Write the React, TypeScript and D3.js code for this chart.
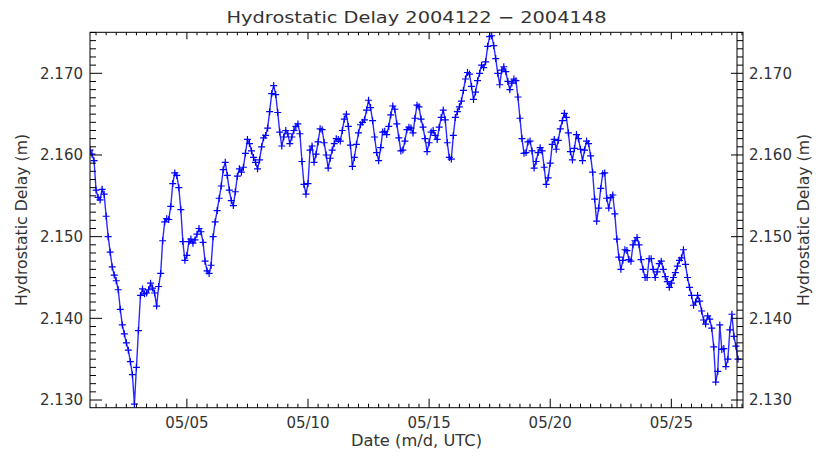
import React from "react";
import * as d3 from "d3";

// Hydrostatic delay (m), sampled every 2 hours starting 2004-05-01 00:00 UTC (DOY 122)
const startHour = 0;
const stepHours = 2;
const delay: number[] = [
  2.1606, 2.1601, 2.1593, 2.1557, 2.1548, 2.1545, 2.1558, 2.1552, 2.1525, 2.1500,
  2.1481, 2.1463, 2.1453, 2.1446, 2.1435, 2.1411, 2.1392, 2.1381, 2.1370, 2.1361,
  2.1347, 2.1331, 2.1295, 2.1340, 2.1385, 2.1428, 2.1436, 2.1430, 2.1431, 2.1435,
  2.1443, 2.1437, 2.1431, 2.1415, 2.1439, 2.1455, 2.1495, 2.1518, 2.1522, 2.1521,
  2.1537, 2.1565, 2.1578, 2.1575, 2.1560, 2.1533, 2.1494, 2.1471, 2.1477, 2.1494,
  2.1497, 2.1492, 2.1496, 2.1503, 2.1510, 2.1506, 2.1493, 2.1470, 2.1458, 2.1455,
  2.1465, 2.1500, 2.1518, 2.1532, 2.1547, 2.1562, 2.1582, 2.1591, 2.1575, 2.1557,
  2.1544, 2.1538, 2.1555, 2.1574, 2.1583, 2.1579, 2.1585, 2.1602, 2.1619, 2.1614,
  2.1605, 2.1597, 2.1591, 2.1583, 2.1594, 2.1610, 2.1621, 2.1624, 2.1633, 2.1653,
  2.1675, 2.1685, 2.1674, 2.1652, 2.1628, 2.1611, 2.1622, 2.1630, 2.1626, 2.1614,
  2.1622, 2.1630, 2.1635, 2.1638, 2.1626, 2.1592, 2.1564, 2.1552, 2.1565, 2.1606,
  2.1611, 2.1591, 2.1601, 2.1616, 2.1632, 2.1631, 2.1615, 2.1600, 2.1584, 2.1596,
  2.1606, 2.1614, 2.1620, 2.1619, 2.1617, 2.1630, 2.1644, 2.1650, 2.1635, 2.1612,
  2.1586, 2.1597, 2.1613, 2.1627, 2.1637, 2.1640, 2.1643, 2.1655, 2.1667, 2.1658,
  2.1642, 2.1622, 2.1603, 2.1593, 2.1609, 2.1628, 2.1629, 2.1625, 2.1635, 2.1649,
  2.1660, 2.1656, 2.1638, 2.1621, 2.1605, 2.1606, 2.1617, 2.1631, 2.1634, 2.1633,
  2.1627, 2.1645, 2.1661, 2.1659, 2.1644, 2.1634, 2.1620, 2.1604, 2.1615, 2.1628,
  2.1630, 2.1624, 2.1619, 2.1634, 2.1646, 2.1655, 2.1643, 2.1615, 2.1597, 2.1595,
  2.1624, 2.1646, 2.1653, 2.1659, 2.1666, 2.1679, 2.1693, 2.1701, 2.1699, 2.1684,
  2.1668, 2.1677, 2.1691, 2.1700, 2.1710, 2.1707, 2.1714, 2.1733, 2.1745, 2.1746,
  2.1734, 2.1718, 2.1700, 2.1686, 2.1704, 2.1708, 2.1702, 2.1690, 2.1680, 2.1688,
  2.1693, 2.1691, 2.1671, 2.1645, 2.1620, 2.1602, 2.1603, 2.1616, 2.1617, 2.1605,
  2.1584, 2.1592, 2.1603, 2.1609, 2.1605, 2.1585, 2.1564, 2.1572, 2.1590, 2.1613,
  2.1619, 2.1607, 2.1618, 2.1632, 2.1642, 2.1651, 2.1646, 2.1627, 2.1604, 2.1594,
  2.1608, 2.1625, 2.1620, 2.1607, 2.1593, 2.1606, 2.1617, 2.1614, 2.1599, 2.1579,
  2.1546, 2.1519, 2.1535, 2.1559, 2.1577, 2.1578, 2.1547, 2.1535, 2.1548, 2.1551,
  2.1528, 2.1497, 2.1475, 2.1460, 2.1471, 2.1484, 2.1483, 2.1472, 2.1470, 2.1490,
  2.1495, 2.1499, 2.1490, 2.1472, 2.1460, 2.1450, 2.1450, 2.1473, 2.1473, 2.1460,
  2.1450, 2.1457, 2.1467, 2.1470, 2.1460, 2.1451, 2.1445, 2.1438, 2.1443, 2.1450,
  2.1456, 2.1464, 2.1471, 2.1474, 2.1484, 2.1466, 2.1450, 2.1438, 2.1428, 2.1416,
  2.1420, 2.1428, 2.1421, 2.1409, 2.1398, 2.1393, 2.1403, 2.1399, 2.1388, 2.1365,
  2.1322, 2.1335, 2.1392, 2.1362, 2.1363, 2.1341, 2.1350, 2.1386, 2.1405, 2.1378,
  2.1366, 2.1350,
];

const xTickHours = [96, 216, 336, 456, 576];
const xTickLabels = ["05/05", "05/10", "05/15", "05/20", "05/25"];
const yTickValues = [2.13, 2.14, 2.15, 2.16, 2.17];
const yTickLabels = ["2.130", "2.140", "2.150", "2.160", "2.170"];
const xDomain = [0, 647];
const yDomain = [2.12906, 2.17502];
const minorXStepHours = 10;
const minorYStep = 0.001;

const title = "Hydrostatic Delay 2004122 \u2212 2004148";
const xTitle = "Date (m/d, UTC)";
const yTitle = "Hydrostatic Delay (m)";

const W = 818;
const H = 457;
const L = 90;
const R = 743;
const T = 32.3;
const B = 407.7;

export default function App() {
  const x = d3.scaleLinear().domain(xDomain).range([L, R]);
  const y = d3.scaleLinear().domain(yDomain).range([B, T]);
  const pts = delay.map((v, i) => [startHour + i * stepHours, v] as [number, number]);
  const line = d3
    .line<[number, number]>()
    .x((d) => x(d[0]))
    .y((d) => y(d[1]));

  const markerPath = pts
    .map((d) => {
      const px = x(d[0]);
      const py = y(d[1]);
      return `M${px - 3.5},${py}h7M${px},${py - 3.5}v7`;
    })
    .join("");

  const minorX: number[] = [];
  for (let h = xTickHours[0]; h >= xDomain[0]; h -= minorXStepHours) minorX.push(h);
  for (let h = xTickHours[0] + minorXStepHours; h <= xDomain[1]; h += minorXStepHours) minorX.push(h);
  const minorXs = minorX.filter((h) => !xTickHours.includes(h));

  const minorY: number[] = [];
  for (let k = Math.ceil(yDomain[0] / minorYStep); k * minorYStep <= yDomain[1] + 1e-9; k++) {
    const v = +(k * minorYStep).toFixed(4);
    if (!yTickValues.some((t) => Math.abs(t - v) < 1e-7)) minorY.push(v);
  }

  const font = "DejaVu Sans, Liberation Sans, sans-serif";
  const txt = "#333";
  const ax = "#000";
  const midY = (T + B) / 2;

  return (
    <svg
      width={W}
      height={H}
      style={{ position: "absolute", left: 0, top: 0, background: "#fff" }}
      fontFamily={font}
    >
      <rect x={0} y={0} width={W} height={H} fill="#fff" />
      <defs>
        <clipPath id="plotclip">
          <rect x={L} y={T} width={R - L} height={B - T} />
        </clipPath>
      </defs>

      <g clipPath="url(#plotclip)">
        <path d={line(pts) || ""} fill="none" stroke="#2a2aff" strokeWidth={1.4} />
        <path d={markerPath} fill="none" stroke="#0000ff" strokeWidth={1.2} />
      </g>

      {/* box */}
      <rect x={L} y={T} width={R - L} height={B - T} fill="none" stroke={ax} strokeWidth={1} />
      <line x1={R - 6} x2={R - 6} y1={T} y2={B} stroke={ax} strokeWidth={1} />

      {/* x ticks bottom & top */}
      {minorXs.map((h) => (
        <g key={"mx" + h}>
          <line x1={x(h)} x2={x(h)} y1={B} y2={B - 4} stroke={ax} />
          <line x1={x(h)} x2={x(h)} y1={T} y2={T + 3} stroke={ax} />
        </g>
      ))}
      {xTickHours.map((h, i) => (
        <g key={"Mx" + h}>
          <line x1={x(h)} x2={x(h)} y1={B} y2={B - 9} stroke={ax} />
          <line x1={x(h)} x2={x(h)} y1={T} y2={T + 7} stroke={ax} />
          <text x={x(h)} y={428} textAnchor="middle" fontSize={15} fill={txt}>
            {xTickLabels[i]}
          </text>
        </g>
      ))}

      {/* y ticks left & right */}
      {minorY.map((v) => (
        <g key={"my" + v}>
          <line x1={L} x2={L + 6} y1={y(v)} y2={y(v)} stroke={ax} />
          <line x1={R} x2={R - 6} y1={y(v)} y2={y(v)} stroke={ax} />
        </g>
      ))}
      {yTickValues.map((v, i) => (
        <g key={"My" + v}>
          <line x1={L} x2={L + 12} y1={y(v)} y2={y(v)} stroke={ax} />
          <line x1={R} x2={R - 12} y1={y(v)} y2={y(v)} stroke={ax} />
          <text x={83} y={y(v)} dy="0.36em" textAnchor="end" fontSize={15} fill={txt}>
            {yTickLabels[i]}
          </text>
          <text x={749} y={y(v)} dy="0.36em" textAnchor="start" fontSize={15} fill={txt}>
            {yTickLabels[i]}
          </text>
        </g>
      ))}

      {/* titles */}
      <text x={(L + R) / 2} y={23} textAnchor="middle" fontSize={16} fill={txt} textLength={380} lengthAdjust="spacingAndGlyphs">
        {title}
      </text>
      <text x={(L + R) / 2} y={446} textAnchor="middle" fontSize={15} fill={txt} textLength={131} lengthAdjust="spacingAndGlyphs">
        {xTitle}
      </text>
      <text
        transform={`translate(27,${midY}) rotate(-90)`}
        textAnchor="middle"
        fontSize={15}
        fill={txt}
        textLength={172}
        lengthAdjust="spacingAndGlyphs"
      >
        {yTitle}
      </text>
      <text
        transform={`translate(809,${midY}) rotate(-90)`}
        textAnchor="middle"
        fontSize={15}
        fill={txt}
        textLength={172}
        lengthAdjust="spacingAndGlyphs"
      >
        {yTitle}
      </text>
    </svg>
  );
}
